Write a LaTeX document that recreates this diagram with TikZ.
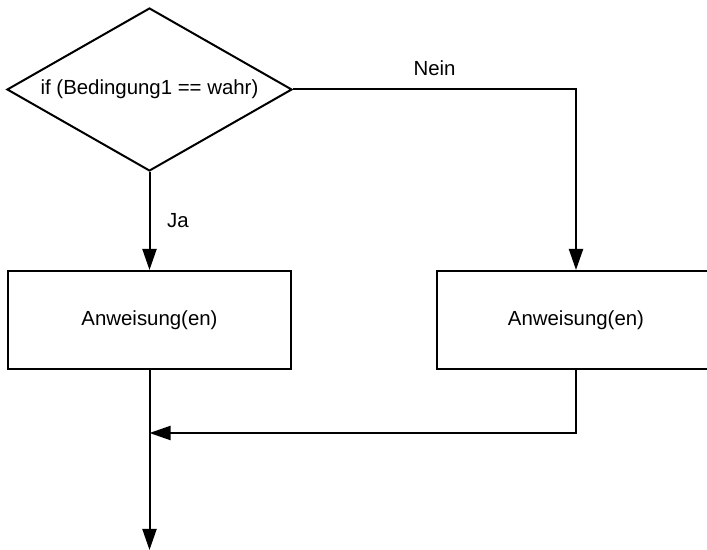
\documentclass[tikz,border=0pt]{standalone}
\usepackage{fontspec}
\setmainfont{Liberation Sans}
\usetikzlibrary{arrows.meta,positioning,shapes.geometric}

\begin{document}
\begin{tikzpicture}[x=0.5pt,y=-0.5pt,node distance=49pt and 72pt,every node/.style={font=\fontsize{10.2}{12}\selectfont,align=center},cond/.style={draw,diamond,aspect=1.75,line width=1pt,minimum width=142.5pt,minimum height=81.5pt,inner sep=0pt},stmt/.style={draw,line width=1pt,minimum width=141.5pt,minimum height=49pt},arrow/.style={-{Triangle[length=10.5pt,width=7pt]},line width=1pt}]
\useasboundingbox (0,0) rectangle (707,550);
\clip (0,0) rectangle (707,550);
\node[cond] (if) at (149.5,89.5) {if (Bedingung1 == wahr)};
\node[stmt,below=of if] (ja) {Anweisung(en)};
\node[stmt,minimum width=139pt,right=of ja] (nein) {Anweisung(en)};
\coordinate (merge) at (149.5,433);
\coordinate (out) at (149.5,550);
\draw[arrow] (if)--node[right=5pt]{Ja}(ja);
\draw[arrow] (if.east)-|node[pos=0.25,above=3pt]{Nein}(nein.north);
\draw[arrow] (nein.south)|-(merge);
\draw[arrow] (ja)--(out);
\end{tikzpicture}
\end{document}
